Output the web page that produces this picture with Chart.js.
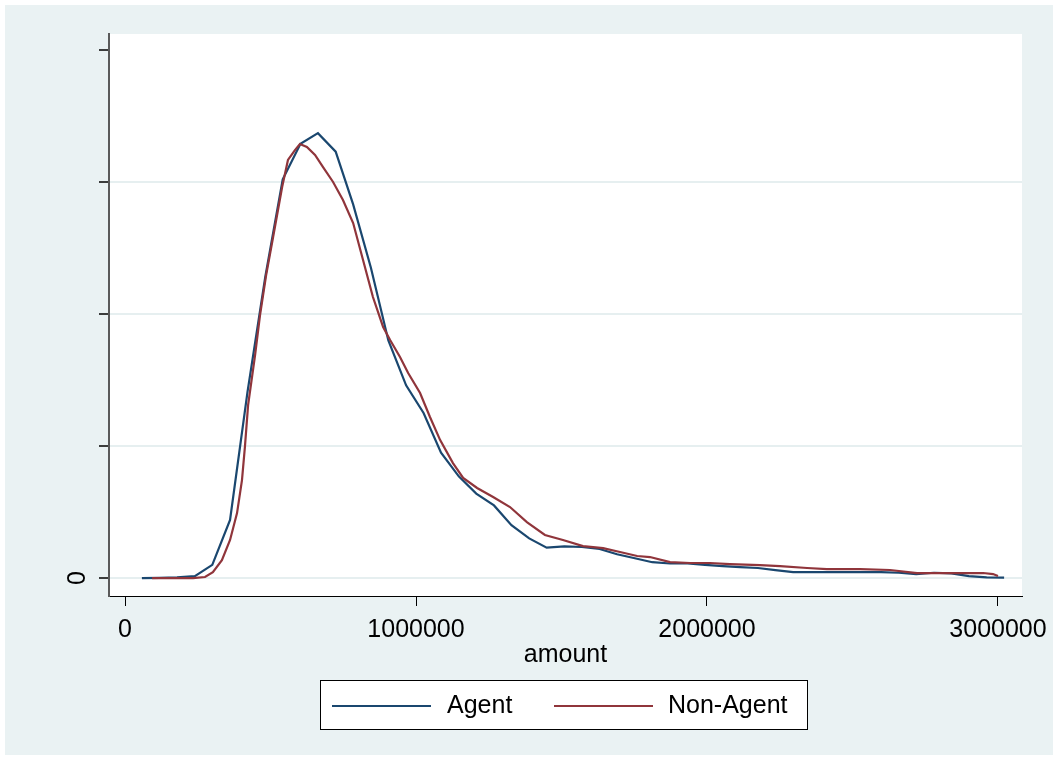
<!DOCTYPE html>
<html>
<head>
<meta charset="utf-8">
<title>amount density</title>
<script src="https://cdn.jsdelivr.net/npm/chart.js@4.4.1/dist/chart.umd.min.js"></script>
<style>
  html, body { margin: 0; padding: 0; background: #ffffff; }
  #wrap { width: 1058px; height: 760px; }
</style>
</head>
<body>
<div id="wrap"><canvas id="densityChart" width="1058" height="760"></canvas></div>
<script>
// kernel density of amount
const agentX = [58000, 119000, 179000, 240000, 300000, 361000, 421000, 482000, 542000, 603000,
  663000, 724000, 784000, 845000, 905000, 966000, 1026000, 1086000, 1147000, 1207000,
  1268000, 1328000, 1389000, 1449000, 1510000, 1570000, 1631000, 1691000, 1752000, 1812000,
  1873000, 1933000, 1993000, 2054000, 2114000, 2175000, 2235000, 2296000, 2356000, 2417000,
  2477000, 2538000, 2598000, 2659000, 2719000, 2780000, 2840000, 2900000, 2961000, 3021000];
const agentY = [0, 0.002, 0.005, 0.015, 0.10, 0.44, 1.41, 2.28, 3.02, 3.29,
  3.37, 3.23, 2.83, 2.35, 1.80, 1.46, 1.25, 0.95, 0.77, 0.64,
  0.55, 0.40, 0.30, 0.23, 0.24, 0.235, 0.22, 0.18, 0.15, 0.12,
  0.11, 0.11, 0.10, 0.09, 0.083, 0.076, 0.06, 0.045, 0.045, 0.045,
  0.045, 0.045, 0.045, 0.04, 0.03, 0.04, 0.035, 0.015, 0.005, 0.003];

const nonAgentX = [93000, 234000, 275000, 302000, 333000, 361000, 385000, 402000, 412000, 423000,
  447000, 464000, 485000, 509000, 540000, 560000, 584000, 601000, 625000, 653000,
  680000, 715000, 749000, 784000, 818000, 852000, 887000, 911000, 945000, 973000,
  1014000, 1048000, 1083000, 1127000, 1162000, 1210000, 1265000, 1323000, 1381000, 1443000,
  1505000, 1574000, 1643000, 1701000, 1760000, 1804000, 1873000, 1942000, 2010000, 2079000,
  2182000, 2251000, 2344000, 2412000, 2526000, 2629000, 2722000, 2845000, 2949000, 2983000, 3000000];
const nonAgentY = [0, 0, 0.008, 0.045, 0.136, 0.288, 0.492, 0.742, 0.992, 1.31,
  1.689, 1.992, 2.295, 2.583, 2.962, 3.167, 3.242, 3.288, 3.265, 3.205,
  3.114, 3.0, 2.864, 2.689, 2.409, 2.129, 1.902, 1.803, 1.674, 1.553,
  1.402, 1.22, 1.045, 0.871, 0.758, 0.682, 0.614, 0.538, 0.424, 0.326,
  0.288, 0.242, 0.227, 0.197, 0.167, 0.159, 0.121, 0.114, 0.114, 0.106,
  0.098, 0.091, 0.076, 0.068, 0.068, 0.061, 0.038, 0.038, 0.038, 0.03, 0.015];

const xTicks = [0, 1000000, 2000000, 3000000];
const yTicks = [0, 1, 2, 3, 4];
const yLabels = { 0: "0" };

const seriesNames = ["Agent", "Non-Agent"];
const seriesColors = ["#1a476f", "#90353b"];

const FONT = "'Liberation Sans', Arial, sans-serif";

const toPoints = (xs, ys) => xs.map((x, i) => ({ x: x, y: ys[i] }));

// stata-like background: white frame, light region, white plot area
const backgroundPlugin = {
  id: "background",
  beforeDraw(chart) {
    const { ctx, chartArea: a } = chart;
    ctx.save();
    ctx.fillStyle = "#ffffff";
    ctx.fillRect(0, 0, chart.width, chart.height);
    ctx.fillStyle = "#eaf2f3";
    ctx.fillRect(5, 5, chart.width - 10, chart.height - 10);
    ctx.fillStyle = "#ffffff";
    ctx.fillRect(a.left, a.top, a.right - a.left, a.bottom - a.top);
    ctx.restore();
  },
};

// rotated y tick labels and the boxed legend
const decorPlugin = {
  id: "decor",
  afterDraw(chart) {
    const { ctx } = chart;
    const y = chart.scales.y;
    ctx.save();
    ctx.fillStyle = "#000";
    ctx.font = "25px " + FONT;
    ctx.textAlign = "center";
    ctx.textBaseline = "middle";
    Object.keys(yLabels).forEach((v) => {
      ctx.save();
      ctx.translate(78, y.getPixelForValue(Number(v)));
      ctx.rotate(-Math.PI / 2);
      ctx.fillText(yLabels[v], 0, 0);
      ctx.restore();
    });

    // legend box
    ctx.fillStyle = "#fff";
    ctx.fillRect(320, 680, 488, 50);
    ctx.strokeStyle = "#000";
    ctx.lineWidth = 1;
    ctx.strokeRect(320.5, 680.5, 487, 49);
    const items = [
      { x0: 332, x1: 431, tx: 447 },
      { x0: 554, x1: 653, tx: 668 },
    ];
    items.forEach((it, i) => {
      ctx.strokeStyle = seriesColors[i];
      ctx.lineWidth = 2;
      ctx.beginPath();
      ctx.moveTo(it.x0, 706);
      ctx.lineTo(it.x1, 706);
      ctx.stroke();
      ctx.fillStyle = "#000";
      ctx.textAlign = "left";
      ctx.textBaseline = "middle";
      ctx.fillText(seriesNames[i], it.tx, 706);
    });
    ctx.restore();
  },
};

new Chart(document.getElementById("densityChart"), {
  type: "line",
  data: {
    datasets: [
      {
        label: seriesNames[0],
        data: toPoints(agentX, agentY),
        borderColor: seriesColors[0],
        borderWidth: 2.2,
        pointRadius: 0,
        tension: 0,
        order: 1,
      },
      {
        label: seriesNames[1],
        data: toPoints(nonAgentX, nonAgentY),
        borderColor: seriesColors[1],
        borderWidth: 2.2,
        pointRadius: 0,
        tension: 0,
        order: 0,
      },
    ],
  },
  options: {
    responsive: false,
    animation: false,
    layout: { padding: { left: 0, top: 34, right: 36, bottom: 90 } },
    plugins: {
      legend: { display: false },
      tooltip: { enabled: false },
    },
    scales: {
      x: {
        type: "linear",
        min: -55000,
        max: 3082500,
        afterBuildTicks: (s) => { s.ticks = xTicks.map((v) => ({ value: v })); },
        afterFit: (s) => { s.height = 74; },
        ticks: {
          color: "#000",
          font: { family: FONT, size: 25 },
          padding: 9,
          maxRotation: 0,
          callback: (v) => String(v),
        },
        grid: {
          drawOnChartArea: false,
          tickLength: 10,
          tickColor: "#000",
          tickWidth: 1,
        },
        border: { color: "#000", width: 1 },
        title: {
          display: true,
          text: "amount",
          color: "#000",
          font: { family: FONT, size: 25 },
          padding: 0,
        },
      },
      y: {
        type: "linear",
        min: -0.136,
        max: 4.121,
        afterBuildTicks: (s) => { s.ticks = yTicks.map((v) => ({ value: v })); },
        afterFit: (s) => { s.width = 109; },
        ticks: { display: false },
        grid: {
          color: (c) => (c.tick && c.tick.value === 4 ? "rgba(0,0,0,0)" : "#e6eff0"),
          lineWidth: 2,
          tickLength: 10,
          tickColor: "#000",
          tickWidth: 1.5,
        },
        border: { color: "#5a5a5a", width: 2 },
      },
    },
  },
  plugins: [backgroundPlugin, decorPlugin],
});
</script>
</body>
</html>
